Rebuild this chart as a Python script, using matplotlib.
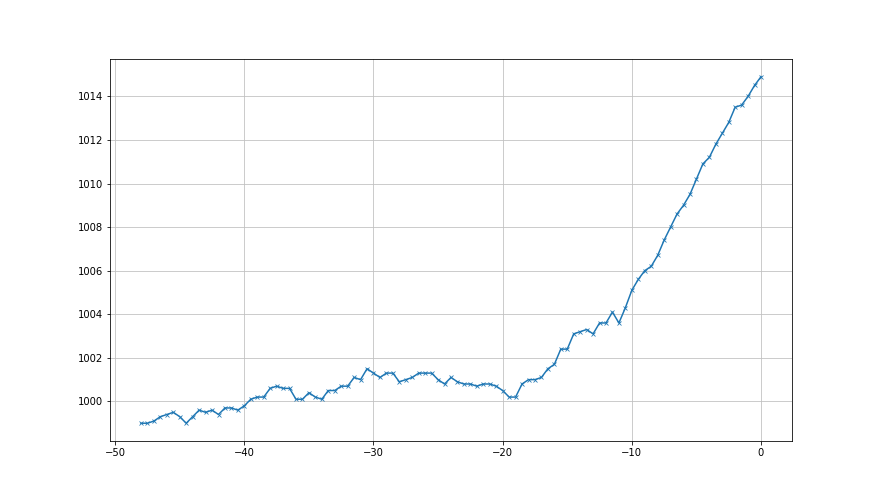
import numpy as np
import matplotlib
matplotlib.use("Agg")
import matplotlib.pyplot as plt

# heures relatives (pas de 0.5 h)
hours = np.arange(-48, 0.01, 0.5)
# pression
pressure = [
    999.0, 999.0, 999.1, 999.3, 999.4, 999.5, 999.3, 999.0, 999.3, 999.6,
    999.5, 999.6, 999.4, 999.7, 999.7, 999.6, 999.8, 1000.1, 1000.2, 1000.2,
    1000.6, 1000.7, 1000.6, 1000.6, 1000.1, 1000.1, 1000.4, 1000.2, 1000.1, 1000.5,
    1000.5, 1000.7, 1000.7, 1001.1, 1001.0, 1001.5, 1001.3, 1001.1, 1001.3, 1001.3,
    1000.9, 1001.0, 1001.1, 1001.3, 1001.3, 1001.3, 1001.0, 1000.8, 1001.1, 1000.9,
    1000.8, 1000.8, 1000.7, 1000.8, 1000.8, 1000.7, 1000.5, 1000.2, 1000.2, 1000.8,
    1001.0, 1001.0, 1001.1, 1001.5, 1001.7, 1002.4, 1002.4, 1003.1, 1003.2, 1003.3,
    1003.1, 1003.6, 1003.6, 1004.1, 1003.6, 1004.3, 1005.1, 1005.6, 1006.0, 1006.2,
    1006.7, 1007.4, 1008.0, 1008.6, 1009.0, 1009.5, 1010.2, 1010.9, 1011.2, 1011.8,
    1012.3, 1012.8, 1013.5, 1013.6, 1014.0, 1014.5, 1014.9,
]

fig = plt.figure(figsize=(880 / 72, 495 / 72), dpi=72)
ax = fig.add_subplot(111)
ax.plot(hours, pressure, marker="x", markersize=4.5, markeredgewidth=0.8, color="#1f77b4")
ax.grid(True, color="#c0c0c0")
ax.ticklabel_format(axis="y", useOffset=False)
fig.savefig("out.png", dpi=72)
